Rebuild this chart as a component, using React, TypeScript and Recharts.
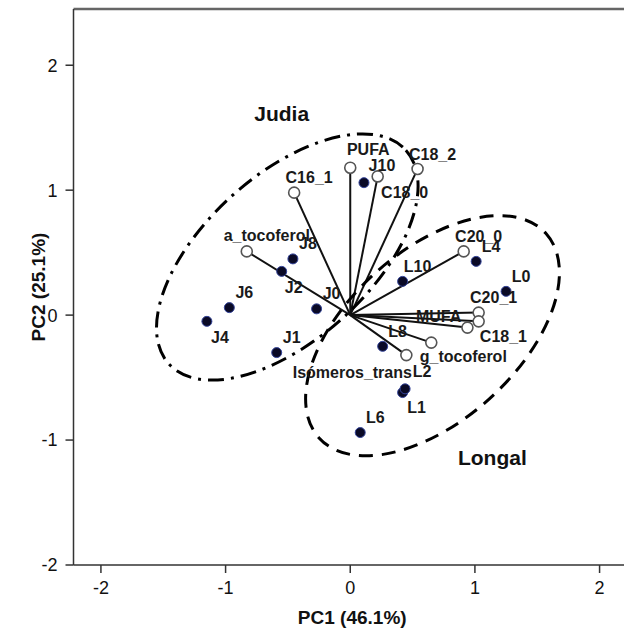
import React from 'react'
import { ScatterChart, Scatter, XAxis, YAxis, ReferenceLine } from 'recharts'

// object scores (PC1, PC2)
const scoreNames = ['J0', 'J1', 'J2', 'J4', 'J6', 'J8', 'J10', 'L0', 'L1', 'L2', 'L4', 'L6', 'L8', 'L10']
const scorePC1 = [-0.27, -0.59, -0.55, -1.15, -0.97, -0.46, 0.11, 1.25, 0.42, 0.44, 1.01, 0.08, 0.26, 0.42]
const scorePC2 = [0.05, -0.3, 0.35, -0.05, 0.06, 0.45, 1.06, 0.19, -0.62, -0.59, 0.43, -0.94, -0.25, 0.27]

// variable loadings (PC1, PC2)
const loadingNames = ['C16_1', 'C18_0', 'C18_1', 'C18_2', 'C20_0', 'C20_1', 'MUFA', 'PUFA', 'a_tocoferol', 'g_tocoferol', 'Isómeros_trans']
const loadingPC1 = [-0.45, 0.22, 0.94, 0.54, 0.91, 1.03, 1.03, 0.0, -0.83, 0.65, 0.45]
const loadingPC2 = [0.98, 1.11, -0.1, 1.17, 0.51, 0.02, -0.05, 1.18, 0.51, -0.22, -0.32]

// group ellipses: centre, semi axes, tilt (deg)
const groupNames = ['Judia', 'Longal']
const groupPC1 = [-0.505, 0.66]
const groupPC2 = [0.465, -0.165]
const groupSemiMajor = [1.28, 1.225]
const groupSemiMinor = [0.66, 0.68]
const groupAngle = [42, 42]
const groupLabelPC1 = [-0.55, 1.14]
const groupLabelPC2 = [1.61, -1.14]

const xTicks = [-2, -1, 0, 1, 2]
const yTicks = [-2, -1, 0, 1, 2]

const FONT = '"Liberation Sans", Arial, sans-serif'
const CHART_W = 640
const CHART_H = 631
const MARGIN = { top: 9, right: 13, left: 0, bottom: 0 }
const Y_AXIS_W = 73.5
const X_AXIS_H = 66
const X_DOMAIN: [number, number] = [-2.22, 2.22]
const Y_DOMAIN: [number, number] = [-2, 2.45]
const PX_X = (CHART_W - MARGIN.left - MARGIN.right - Y_AXIS_W) / (X_DOMAIN[1] - X_DOMAIN[0])
const PX_Y = (CHART_H - MARGIN.top - MARGIN.bottom - X_AXIS_H) / (Y_DOMAIN[1] - Y_DOMAIN[0])

const GROUP_DASH: Record<string, string> = { Judia: '16 7 3 7', Longal: '14 9' }

// label placement relative to the marker, px
const LABEL_OFFSET: Record<string, [number, number]> = {
  J2: [12, 16],
  J4: [13, 16],
  L1: [14, 15],
  L2: [17, -17],
  J10: [18, -17],
  PUFA: [18, -18],
  C18_0: [27, 16],
  a_tocoferol: [20, -16],
  MUFA: [-40, -5],
  C18_1: [36, 9],
  g_tocoferol: [32, 14],
  'Isómeros_trans': [-54, 17],
}

const scores = scoreNames.map((name, i) => ({ name, x: scorePC1[i], y: scorePC2[i] }))
const loadings = loadingNames.map((name, i) => ({ name, x: loadingPC1[i], y: loadingPC2[i] }))
const groups = groupNames.map((name, i) => ({
  name,
  x: groupPC1[i],
  y: groupPC2[i],
  a: groupSemiMajor[i],
  b: groupSemiMinor[i],
  angle: groupAngle[i],
}))
const groupLabels = groupNames.map((name, i) => ({ name, x: groupLabelPC1[i], y: groupLabelPC2[i] }))

const EllipseShape = (props: any) => {
  const { cx, cy, payload } = props
  return (
    <ellipse
      cx={cx}
      cy={cy}
      rx={payload.a * PX_X}
      ry={payload.b * PX_Y}
      transform={`rotate(${-payload.angle} ${cx} ${cy})`}
      fill="none"
      stroke="#000"
      strokeWidth={3}
      strokeDasharray={GROUP_DASH[payload.name]}
    />
  )
}

const ScoreDot = (props: any) => (
  <circle cx={props.cx} cy={props.cy} r={5} fill="#0a0a26" stroke="#34449a" strokeWidth={1} />
)

const LoadingDot = (props: any) => (
  <circle cx={props.cx} cy={props.cy} r={5.5} fill="#fff" stroke="#555" strokeWidth={1.6} />
)

const PointLabel = (props: any) => {
  const { cx, cy, payload } = props
  const [dx, dy] = LABEL_OFFSET[payload.name] ?? [15, -15]
  return (
    <text
      x={cx + dx}
      y={cy + dy}
      dy="0.35em"
      textAnchor="middle"
      fontSize={16}
      fontWeight="bold"
      fill="#1a1a1a"
      fontFamily={FONT}
    >
      {payload.name}
    </text>
  )
}

const GroupLabel = (props: any) => (
  <text
    x={props.cx}
    y={props.cy}
    dy="0.35em"
    textAnchor="middle"
    fontSize={21}
    fontWeight="bold"
    fill="#111"
    fontFamily={FONT}
  >
    {props.payload.name}
  </text>
)

export default function App() {
  return (
    <div
      style={{
        position: 'absolute',
        left: 0,
        top: 0,
        width: 624,
        height: 631,
        overflow: 'hidden',
        background: '#fff',
        fontFamily: FONT,
      }}
    >
      <ScatterChart width={CHART_W} height={CHART_H} margin={MARGIN}>
        <XAxis
          type="number"
          dataKey="x"
          domain={X_DOMAIN}
          ticks={xTicks}
          allowDataOverflow
          height={X_AXIS_H}
          tickSize={8}
          tickMargin={8}
          axisLine={{ stroke: '#333', strokeWidth: 1.5 }}
          tickLine={{ stroke: '#333', strokeWidth: 1.5 }}
          tick={{ fontSize: 18, fill: '#111', fontFamily: FONT }}
          label={{
            content: ({ viewBox }: any) => (
              <text
                x={viewBox.x + viewBox.width / 2 + 2}
                y={viewBox.y + 59}
                textAnchor="middle"
                fontSize={19}
                fontWeight="bold"
                fill="#111"
                fontFamily={FONT}
              >
                PC1 (46.1%)
              </text>
            ),
          }}
        />
        <YAxis
          type="number"
          dataKey="y"
          domain={Y_DOMAIN}
          ticks={yTicks}
          allowDataOverflow
          width={Y_AXIS_W}
          tickSize={8}
          tickMargin={8}
          axisLine={{ stroke: '#333', strokeWidth: 1.5 }}
          tickLine={{ stroke: '#333', strokeWidth: 1.5 }}
          tick={{ fontSize: 18, fill: '#111', fontFamily: FONT }}
          label={{
            content: ({ viewBox }: any) => {
              const x = viewBox.x + 45
              const y = viewBox.y + viewBox.height / 2
              return (
                <text
                  x={x}
                  y={y}
                  transform={`rotate(-90 ${x} ${y})`}
                  textAnchor="middle"
                  fontSize={19}
                  fontWeight="bold"
                  fill="#111"
                  fontFamily={FONT}
                >
                  PC2 (25.1%)
                </text>
              )
            },
          }}
        />
        <ReferenceLine y={Y_DOMAIN[1]} stroke="#666" strokeWidth={2.5} />

        <Scatter data={groups} shape={EllipseShape} isAnimationActive={false} />

        {loadings.map((d) => (
          <ReferenceLine
            key={`vec-${d.name}`}
            segment={[{ x: 0, y: 0 }, { x: d.x, y: d.y }]}
            stroke="#111"
            strokeWidth={2}
          />
        ))}

        <Scatter data={loadings} shape={LoadingDot} isAnimationActive={false} />
        <Scatter data={scores} shape={ScoreDot} isAnimationActive={false} />
        <Scatter data={[...loadings, ...scores]} shape={PointLabel} isAnimationActive={false} />
        <Scatter data={groupLabels} shape={GroupLabel} isAnimationActive={false} />
      </ScatterChart>
    </div>
  )
}
